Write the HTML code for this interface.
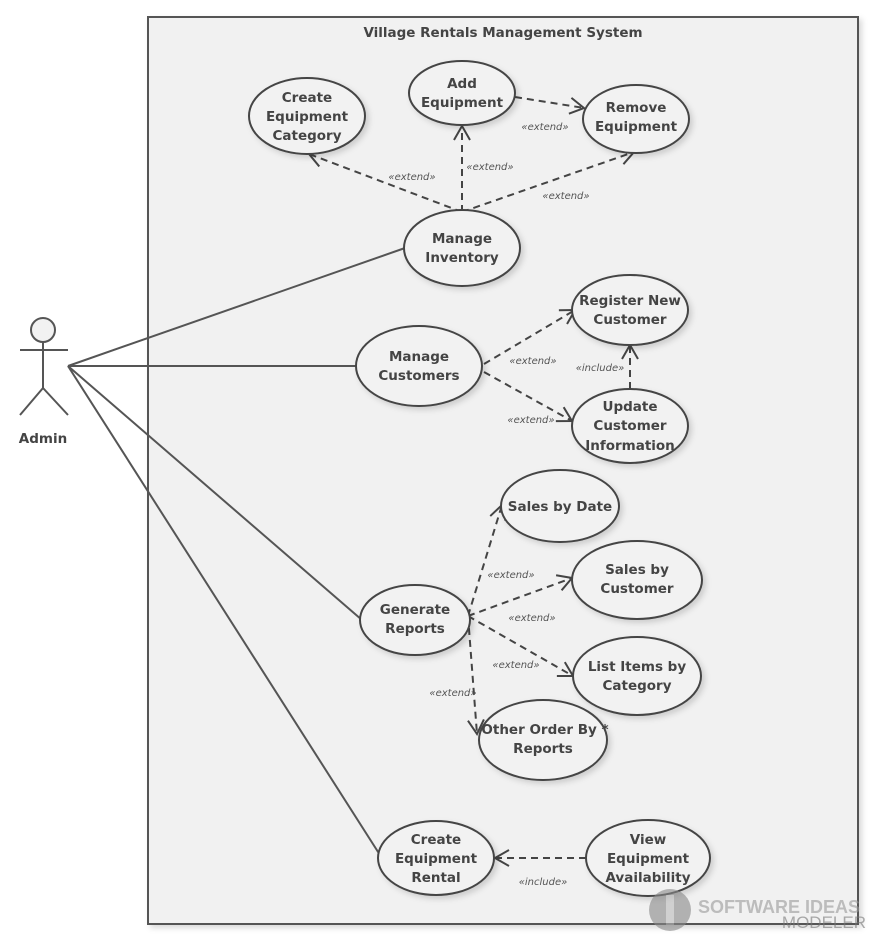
<!DOCTYPE html>
<html><head><style>
body{margin:0;background:#fff;}
svg{display:block;font-family:"DejaVu Sans","Liberation Sans",sans-serif;}
.u{fill:#f2f2f2;stroke:#444;stroke-width:2;}
.t{font-size:13.5px;font-weight:bold;fill:#444;text-anchor:middle;}
.s{font-size:10px;font-style:italic;fill:#555;text-anchor:middle;}
.d{stroke:#444;stroke-width:2;stroke-dasharray:7,5;fill:none;marker-end:url(#a);}
.l{stroke:#555;stroke-width:2;fill:none;}
</style></head><body>
<svg width="878" height="945" viewBox="0 0 878 945">
<defs>
<marker id="a" markerWidth="20" markerHeight="20" refX="16" refY="10" orient="auto" markerUnits="userSpaceOnUse">
<path d="M2,2 L16,10 L2,18" fill="none" stroke="#444" stroke-width="2"/></marker>
<filter id="sh"><feDropShadow dx="3" dy="3" stdDeviation="3" flood-color="#000" flood-opacity="0.15"/></filter>
</defs>
<rect x="148" y="17" width="710" height="907" fill="#f1f1f1" stroke="#555" stroke-width="2" filter="url(#sh)"/>
<text x="503" y="37" class="t" style="font-size:13.5px">Village Rentals Management System</text>

<!-- actor -->
<circle cx="43" cy="330" r="12" fill="#f2f2f2" stroke="#555" stroke-width="2"/>
<line x1="43" y1="342" x2="43" y2="388" class="l"/>
<line x1="20" y1="350" x2="68" y2="350" class="l"/>
<line x1="43" y1="388" x2="20" y2="415" class="l"/>
<line x1="43" y1="388" x2="68" y2="415" class="l"/>
<text x="43" y="443" class="t">Admin</text>

<line x1="68" y1="366" x2="405" y2="248" class="l"/>
<line x1="68" y1="366" x2="356" y2="366" class="l"/>
<line x1="68" y1="366" x2="362" y2="620" class="l"/>
<line x1="68" y1="366" x2="380" y2="855" class="l"/>

<!-- dashed -->
<line x1="462" y1="212" x2="309" y2="154" class="d"/>
<line x1="462" y1="212" x2="462" y2="126" class="d"/>
<line x1="462" y1="212" x2="634" y2="152" class="d"/>
<line x1="515" y1="97" x2="584" y2="108" class="d"/>
<line x1="484" y1="364" x2="575" y2="310" class="d"/>
<line x1="484" y1="372" x2="572" y2="421" class="d"/>
<line x1="630" y1="389" x2="630" y2="345" class="d"/>
<line x1="468" y1="616" x2="502" y2="505" class="d"/>
<line x1="468" y1="616" x2="572" y2="578" class="d"/>
<line x1="468" y1="616" x2="573" y2="676" class="d"/>
<line x1="468" y1="616" x2="477" y2="734" class="d"/>
<line x1="586" y1="858" x2="495" y2="858" class="d"/>

<text x="412" y="180" class="s">«extend»</text>
<text x="490" y="170" class="s">«extend»</text>
<text x="545" y="130" class="s">«extend»</text>
<text x="566" y="199" class="s">«extend»</text>
<text x="533" y="364" class="s">«extend»</text>
<text x="531" y="423" class="s">«extend»</text>
<text x="511" y="578" class="s">«extend»</text>
<text x="532" y="621" class="s">«extend»</text>
<text x="516" y="668" class="s">«extend»</text>
<text x="453" y="696" class="s">«extend»</text>
<text x="600" y="371" class="s">«include»</text>
<text x="543" y="885" class="s">«include»</text>

<g filter="url(#sh)">
<ellipse cx="307" cy="116" rx="58" ry="38" class="u"/>
<ellipse cx="462" cy="93" rx="53" ry="32" class="u"/>
<ellipse cx="636" cy="119" rx="53" ry="34" class="u"/>
<ellipse cx="462" cy="248" rx="58" ry="38" class="u"/>
<ellipse cx="630" cy="310" rx="58" ry="35" class="u"/>
<ellipse cx="419" cy="366" rx="63" ry="40" class="u"/>
<ellipse cx="630" cy="426" rx="58" ry="37" class="u"/>
<ellipse cx="560" cy="506" rx="59" ry="36" class="u"/>
<ellipse cx="637" cy="580" rx="65" ry="39" class="u"/>
<ellipse cx="415" cy="620" rx="55" ry="35" class="u"/>
<ellipse cx="637" cy="676" rx="64" ry="39" class="u"/>
<ellipse cx="543" cy="740" rx="64" ry="40" class="u"/>
<ellipse cx="436" cy="858" rx="58" ry="37" class="u"/>
<ellipse cx="648" cy="858" rx="62" ry="38" class="u"/>
</g>

<text class="t"><tspan x="307" y="102">Create</tspan><tspan x="307" y="121">Equipment</tspan><tspan x="307" y="140">Category</tspan></text>
<text class="t"><tspan x="462" y="88">Add</tspan><tspan x="462" y="107">Equipment</tspan></text>
<text class="t"><tspan x="636" y="112">Remove</tspan><tspan x="636" y="131">Equipment</tspan></text>
<text class="t"><tspan x="462" y="243">Manage</tspan><tspan x="462" y="262">Inventory</tspan></text>
<text class="t"><tspan x="630" y="305">Register New</tspan><tspan x="630" y="324">Customer</tspan></text>
<text class="t"><tspan x="419" y="361">Manage</tspan><tspan x="419" y="380">Customers</tspan></text>
<text class="t"><tspan x="630" y="411">Update</tspan><tspan x="630" y="430">Customer</tspan><tspan x="630" y="450">Information</tspan></text>
<text class="t"><tspan x="560" y="511">Sales by Date</tspan></text>
<text class="t"><tspan x="637" y="574">Sales by</tspan><tspan x="637" y="593">Customer</tspan></text>
<text class="t"><tspan x="415" y="614">Generate</tspan><tspan x="415" y="633">Reports</tspan></text>
<text class="t"><tspan x="637" y="671">List Items by</tspan><tspan x="637" y="690">Category</tspan></text>
<text class="t"><tspan x="545" y="734">Other Order By *</tspan><tspan x="543" y="753">Reports</tspan></text>
<text class="t"><tspan x="436" y="844">Create</tspan><tspan x="436" y="863">Equipment</tspan><tspan x="436" y="882">Rental</tspan></text>
<text class="t"><tspan x="648" y="844">View</tspan><tspan x="648" y="863">Equipment</tspan><tspan x="648" y="882">Availability</tspan></text>

<!-- watermark -->
<g opacity="0.6">
<circle cx="670" cy="910" r="21" fill="#888"/>
<rect x="666" y="895" width="8" height="30" fill="#bbb"/>
<text x="698" y="913" style="font-family:'Liberation Sans',sans-serif;font-weight:bold;font-size:18px;fill:#999">SOFTWARE IDEAS</text>
<text x="866" y="928" text-anchor="end" style="font-family:'Liberation Sans',sans-serif;font-size:17px;fill:#777">MODELER</text>
</g>
</svg>
</body></html>
